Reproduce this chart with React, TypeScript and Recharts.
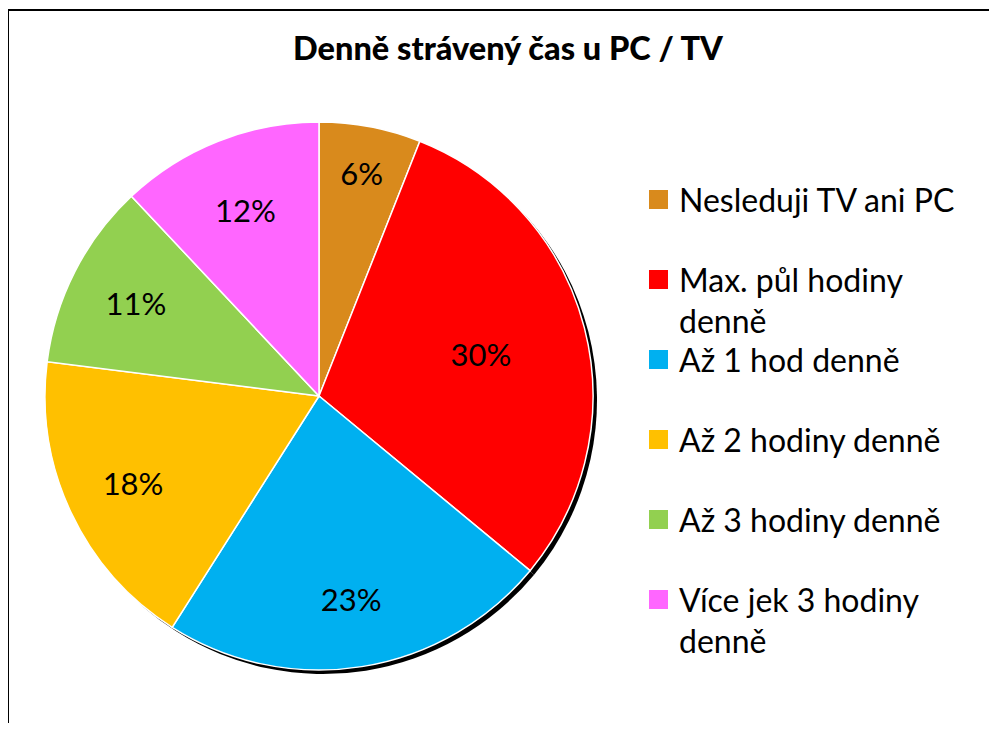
import { PieChart, Pie, Cell, Legend } from 'recharts'

const categories = [
  'Nesleduji TV ani PC',
  'Max. půl hodiny denně',
  'Až 1 hod denně',
  'Až 2 hodiny denně',
  'Až 3 hodiny denně',
  'Více jek 3 hodiny denně',
]
const shares = [6, 30, 23, 18, 11, 12]
const colors = ['#D98A1C', '#FF0000', '#00B0F0', '#FFC000', '#92D050', '#FF66FF']

// Excel "best fit" puts the labels at slightly different distances
const labelRadius = [0.83, 0.61, 0.75, 0.75, 0.75, 0.73]

const data = categories.map((name, i) => ({ name, value: shares[i] }))

const FONT = 'Lato, "Noto Sans", sans-serif'

const renderLabel = (props: any) => {
  const { cx, cy, midAngle, outerRadius, index, value } = props
  const RAD = Math.PI / 180
  const r = outerRadius * labelRadius[index]
  const x = cx + r * Math.cos(-midAngle * RAD)
  const y = cy + r * Math.sin(-midAngle * RAD)
  return (
    <text
      x={x}
      y={y}
      textAnchor="middle"
      dominantBaseline="central"
      fill="#000"
      style={{ fontSize: 31, fontFamily: FONT }}
    >
      {value}%
    </text>
  )
}

const renderLegend = () => (
  <div style={{ fontFamily: FONT, fontSize: 32, color: '#000' }}>
    {categories.map((name, i) => (
      <div key={name} style={{ display: 'flex', alignItems: 'flex-start', height: 80 }}>
        <div
          style={{
            width: 19,
            height: 19,
            background: colors[i],
            marginTop: 11,
            marginRight: 11,
            flexShrink: 0,
          }}
        />
        <div style={{ lineHeight: '41px', width: 290 }}>{name}</div>
      </div>
    ))}
  </div>
)

export default function App() {
  return (
    <div
      style={{
        position: 'relative',
        width: 997,
        height: 731,
        margin: -8,
        overflow: 'hidden',
        background: '#fff',
      }}
    >
      <div
        style={{
          position: 'absolute',
          left: 7,
          top: 9,
          width: 1000,
          height: 800,
          border: '2px solid #000',
        }}
      />
      <div
        style={{
          position: 'absolute',
          left: 0,
          width: 1016,
          top: 27,
          textAlign: 'center',
          fontFamily: FONT,
          fontWeight: 900,
          fontSize: 32.5,
          lineHeight: '42px',
        }}
      >
        Denně strávený čas u PC / TV
      </div>
      <div style={{ position: 'absolute', left: 0, top: 0 }}>
        <PieChart width={997} height={731} margin={{ top: 0, right: 0, bottom: 0, left: 0 }}>
          <Pie
            data={data}
            dataKey="value"
            cx={323}
            cy={400}
            outerRadius={274}
            startAngle={90}
            endAngle={-270}
            fill="#000"
            stroke="none"
            isAnimationActive={false}
            legendType="none"
          />
          <Pie
            data={data}
            dataKey="value"
            nameKey="name"
            cx={319}
            cy={396}
            outerRadius={274}
            startAngle={90}
            endAngle={-270}
            stroke="#fff"
            strokeWidth={1.5}
            label={renderLabel}
            labelLine={false}
            isAnimationActive={false}
          >
            {data.map((d, i) => (
              <Cell key={d.name} fill={colors[i]} />
            ))}
          </Pie>
          <Legend
            content={renderLegend}
            layout="vertical"
            wrapperStyle={{ left: 649, top: 179, width: 330 }}
          />
        </PieChart>
      </div>
    </div>
  )
}
